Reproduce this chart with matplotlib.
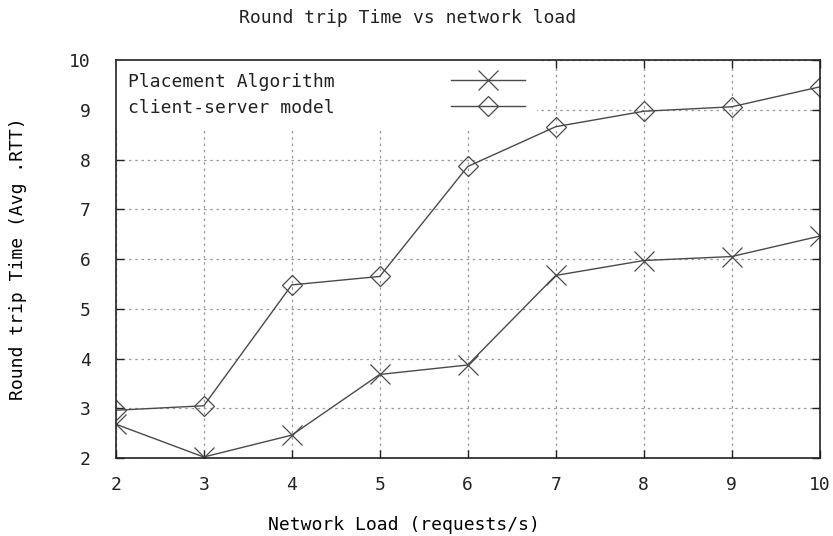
import numpy as np
import matplotlib
matplotlib.use("Agg")
import matplotlib.pyplot as plt

load = [2, 3, 4, 5, 6, 7, 8, 9, 10]
placement = [2.68, 2.02, 2.46, 3.68, 3.87, 5.67, 5.97, 6.05, 6.46]
client_server = [2.96, 3.05, 5.48, 5.65, 7.86, 8.66, 8.97, 9.06, 9.46]
xticks = [2, 3, 4, 5, 6, 7, 8, 9, 10]
yticks = [2, 3, 4, 5, 6, 7, 8, 9, 10]

plt.rcParams['font.family'] = ['DejaVu Sans Mono']
plt.rcParams['font.size'] = 13
plt.rcParams['text.color'] = '#222222'

fig = plt.figure(figsize=(8.33, 5.36), dpi=100)
ax = fig.add_axes([0.139, 0.1455, 0.845, 0.7425])

line_col = '#4a4a4a'
ax.plot(load, placement, color=line_col, lw=1.0, marker='x', ms=14, mew=0.9,
        label='Placement Algorithm')
ax.plot(load, client_server, color=line_col, lw=1.0, marker='D', ms=10,
        mfc='none', mec=line_col, mew=0.9, label='client-server model')

ax.set_xlim(2, 10)
ax.set_ylim(2, 10)
ax.set_xticks(xticks)
ax.set_yticks(yticks)
ax.tick_params(direction='in', length=6, width=1, top=True, right=True,
               labelsize=13, colors='#222222')
ax.tick_params(axis='x', pad=13)
ax.tick_params(axis='y', pad=18)
for s in ax.spines.values():
    s.set_linewidth(1.2)
    s.set_color('#222222')

ax.set_axisbelow(True)
ax.grid(True, linestyle=(0, (2, 3)), color='#9a9a9a', lw=0.9)

ax.set_title('Round trip Time vs network load', fontsize=13, x=0.415,
             y=1.105, va='center', pad=0)
ax.set_xlabel('Network Load (requests/s)', fontsize=13, va='center')
ax.xaxis.set_label_coords(0.41, -0.168)
ax.set_ylabel('Round trip Time (Avg .RTT)', fontsize=13, va='center')
ax.yaxis.set_label_coords(-0.139, 0.5)

leg = ax.legend(loc='upper left', bbox_to_anchor=(0, 1), borderaxespad=0,
                markerfirst=False, frameon=True, fancybox=False,
                edgecolor='none', facecolor='white', framealpha=1,
                handlelength=4.1, handletextpad=6.4, borderpad=0.7,
                labelspacing=0.45)
leg.set_zorder(2.2)

fig.savefig('out.png', dpi=100)
